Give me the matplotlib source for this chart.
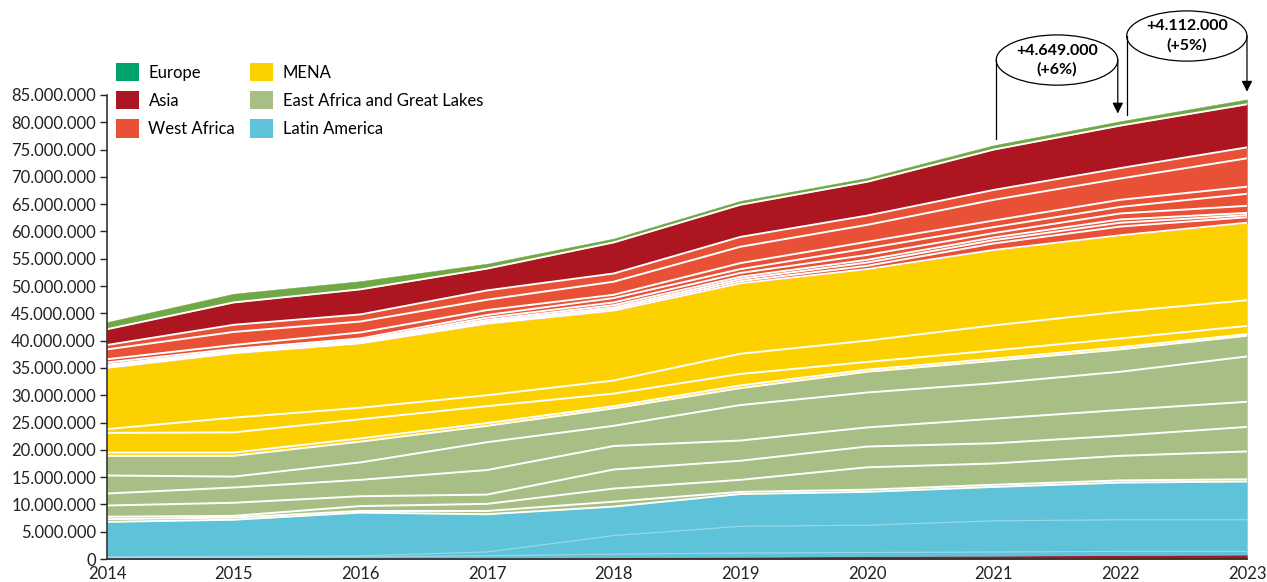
import matplotlib
matplotlib.use('Agg')
import matplotlib.pyplot as plt
from matplotlib.patches import Ellipse, Patch
from matplotlib.ticker import FuncFormatter
import numpy as np

plt.rcParams['font.family'] = ['Lato', 'DejaVu Sans']

years = list(range(2014, 2024))

# layer values in millions, bottom to top
asia_low = [0.05, 0.1, 0.15, 0.2, 0.3, 0.4, 0.5, 0.6, 0.7, 0.8]
latam_1 = [0.25, 0.2, 0.25, 0.4, 0.6, 0.7, 0.7, 0.7, 0.7, 0.6]
latam_2 = [0.1, 0.2, 0.2, 0.7, 3.4, 4.9, 5.0, 5.7, 5.8, 5.8]
latam_3 = [6.4, 6.7, 7.9, 6.9, 5.3, 5.9, 6.1, 6.2, 6.8, 7.0]
eafrica_0 = [0.5, 0.4, 0.3, 0.6, 0.9, 0.4, 0.4, 0.4, 0.4, 0.4]
eafrica_1 = [0.45, 0.3, 0.9, 1.3, 2.4, 2.2, 4.1, 3.9, 4.5, 5.1]
eafrica_2 = [2.05, 2.4, 1.8, 1.7, 3.5, 3.5, 3.8, 3.7, 3.7, 4.5]
eafrica_3 = [2.2, 2.8, 3.0, 4.5, 4.3, 3.7, 3.5, 4.5, 4.7, 4.6]
eafrica_4 = [3.3, 2.0, 3.2, 5.1, 3.7, 6.5, 6.4, 6.5, 7.0, 8.3]
eafrica_5 = [3.6, 3.8, 3.8, 3.0, 3.2, 3.1, 3.8, 4.1, 4.1, 3.8]
mena_0 = [0.6, 0.6, 0.6, 0.5, 0.4, 0.5, 0.4, 0.4, 0.4, 0.3]
mena_1 = [3.6, 3.7, 3.5, 3.1, 2.3, 2.1, 1.4, 1.5, 1.6, 1.5]
mena_2 = [0.7, 2.7, 2.1, 2.0, 2.4, 3.7, 3.9, 4.6, 4.9, 4.7]
mena_3 = [11.2, 11.8, 11.8, 13.1, 12.8, 12.9, 13.1, 13.8, 14.0, 14.2]
wafrica_0 = [0.1, 0.1, 0.1, 0.2, 0.3, 0.4, 0.6, 1.2, 1.6, 1.0]
wafrica_1 = [0.1, 0.1, 0.1, 0.2, 0.3, 0.4, 0.6, 0.6, 0.7, 0.4]
wafrica_2 = [0.2, 0.1, 0.2, 0.3, 0.4, 0.4, 0.5, 0.5, 0.6, 0.4]
wafrica_3 = [0.2, 0.2, 0.2, 0.4, 0.5, 0.7, 0.9, 0.8, 1.1, 1.3]
wafrica_4 = [0.4, 0.3, 0.3, 0.5, 0.8, 0.7, 1.2, 1.1, 1.2, 2.2]
wafrica_5 = [0.6, 0.7, 1.1, 0.9, 0.6, 1.1, 1.2, 1.2, 1.3, 1.3]
wafrica_6 = [1.8, 2.4, 2.0, 1.9, 2.4, 3.0, 3.1, 3.8, 3.9, 5.2]
wafrica_7 = [0.8, 1.3, 1.3, 1.7, 1.5, 1.8, 1.7, 1.8, 1.9, 2.0]
asia = [2.9, 4.1, 4.6, 4.0, 5.7, 5.9, 6.2, 7.4, 7.8, 7.9]
europe = [1.3, 1.6, 1.5, 0.9, 0.7, 0.7, 0.7, 0.8, 0.8, 0.9]

legend_labels = ['Europe', 'Asia', 'West Africa', 'MENA',
                 'East Africa and Great Lakes', 'Latin America']
change_labels = ['+4.649.000\n(+6%)', '+4.112.000\n(+5%)']

c_europe_leg = '#00A36C'
c_europe = '#70A845'
c_asia = '#AD1620'
c_wafrica = '#E85136'
c_mena = '#FDD100'
c_eafrica = '#A7BF84'
c_latam = '#5EC2D9'

# (values, colour, style of line drawn on the top edge)
layers = [
    (asia_low, c_asia, None),
    (latam_1, c_latam, 'faint'),
    (latam_2, c_latam, 'faint'),
    (latam_3, c_latam, 'white'),
    (eafrica_0, c_eafrica, 'white'),
    (eafrica_1, c_eafrica, 'white'),
    (eafrica_2, c_eafrica, 'white'),
    (eafrica_3, c_eafrica, 'white'),
    (eafrica_4, c_eafrica, 'white'),
    (eafrica_5, c_eafrica, 'white'),
    (mena_0, c_mena, 'white'),
    (mena_1, c_mena, 'white'),
    (mena_2, c_mena, 'white'),
    (mena_3, c_mena, 'white'),
    (wafrica_0, c_wafrica, 'white'),
    (wafrica_1, c_wafrica, 'white'),
    (wafrica_2, c_wafrica, 'white'),
    (wafrica_3, c_wafrica, 'white'),
    (wafrica_4, c_wafrica, 'white'),
    (wafrica_5, c_wafrica, 'white'),
    (wafrica_6, c_wafrica, 'white'),
    (wafrica_7, c_wafrica, 'white'),
    (asia, c_asia, 'white'),
    (europe, c_europe, None),
]

vals = np.array([l[0] for l in layers]) * 1e6
cols = [l[1] for l in layers]
cum = np.cumsum(vals, axis=0)

fig = plt.figure(figsize=(12.67, 5.82), dpi=100)
ax = fig.add_axes([0.0845, 0.0395, 0.8997, 0.7973])

ax.stackplot(years, vals, colors=cols, linewidth=0.3, edgecolor='face')
for (v, c, style), top in zip(layers, cum):
    if style == 'white':
        ax.plot(years, top, color='white', lw=1.4, solid_joinstyle='round')
    elif style == 'faint':
        ax.plot(years, top, color='white', lw=0.8, alpha=0.35)

ax.set_xlim(2014, 2023)
ax.set_ylim(0, 85e6)
ax.set_xticks(years)
ax.set_yticks(np.arange(0, 85e6 + 1, 5e6))
ax.yaxis.set_major_formatter(FuncFormatter(lambda v, p: f'{int(round(v)):,}'.replace(',', '.')))
ax.tick_params(axis='y', length=5, width=1, labelsize=12, pad=3, colors='#222222')
ax.tick_params(axis='x', length=0, labelsize=12, pad=5, colors='#222222')
for s in ['top', 'right']:
    ax.spines[s].set_visible(False)
for s in ['left', 'bottom']:
    ax.spines[s].set_color('#333333')
    ax.spines[s].set_linewidth(1.2)

# change annotations between 2021-2022 and 2022-2023
totals = cum[-1]
for i, lab in zip([7, 8], change_labels):
    x0, x1 = years[i] + 0.02, years[i + 1] - 0.02
    if i == 8:
        x0, x1 = years[i] + 0.05, years[i + 1]
    cx = (x0 + x1) / 2
    cy = totals[i] + 15.6e6
    ax.add_patch(Ellipse((cx, cy), x1 - x0, 9.2e6, facecolor='white',
                         edgecolor='black', lw=0.9, clip_on=False, zorder=5))
    ax.plot([x0, x0], [totals[i] + 1.2e6, cy], color='black', lw=0.9,
            clip_on=False, zorder=5)
    ax.annotate('', xy=(x1, totals[i + 1] + 1.4e6), xytext=(x1, cy),
                arrowprops=dict(arrowstyle='-|>', color='black', lw=0.9,
                                mutation_scale=16, shrinkA=0, shrinkB=0),
                annotation_clip=False, zorder=5)
    ax.text(cx, cy, lab, ha='center', va='center', fontsize=11.5,
            fontweight='bold', linespacing=1.4, zorder=6)

handles = [Patch(facecolor=c, edgecolor='none') for c in
           [c_europe_leg, c_asia, c_wafrica, c_mena, c_eafrica, c_latam]]
fig.legend(handles, legend_labels, loc='upper left',
           bbox_to_anchor=(116 / 1267, 1 - 63 / 582), ncol=2, frameon=False,
           fontsize=12, handlelength=1.35, handleheight=1.3,
           handletextpad=0.6, columnspacing=0.9, labelspacing=0.6,
           borderaxespad=0, borderpad=0)

fig.savefig('out.png', dpi=100)
